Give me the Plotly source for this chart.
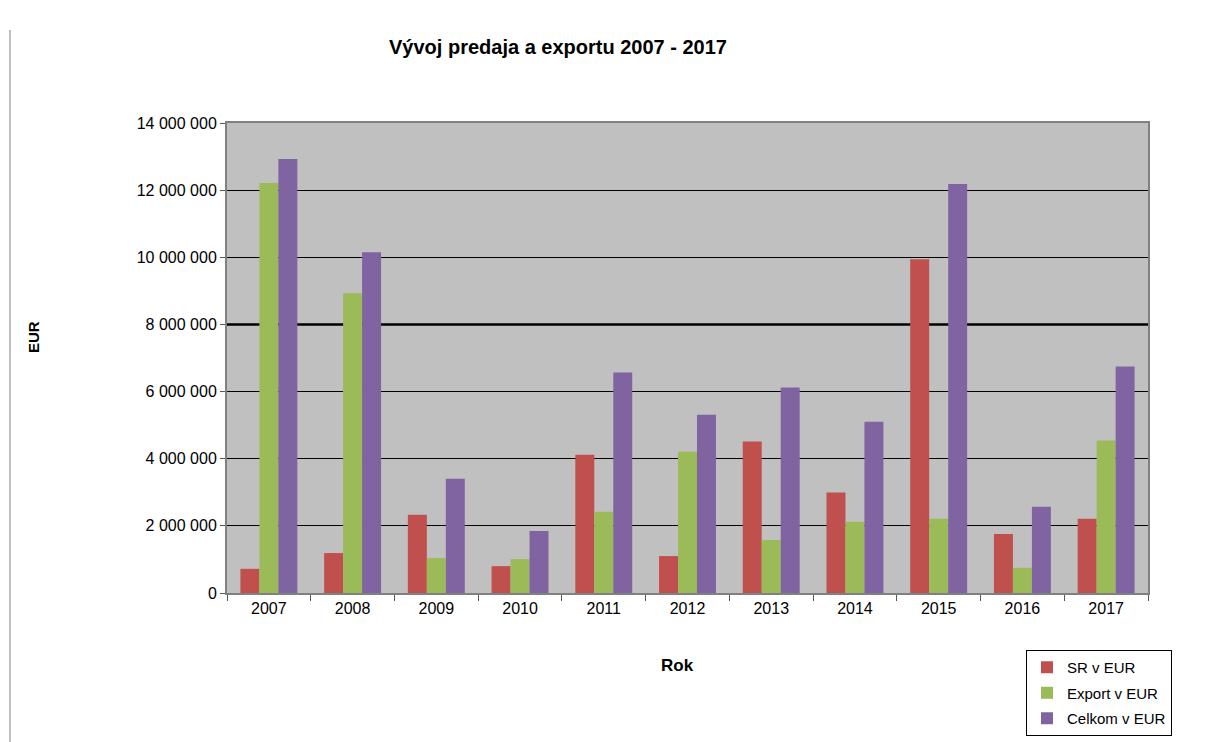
import plotly.graph_objects as go

years = ["2007", "2008", "2009", "2010", "2011", "2012", "2013", "2014", "2015", "2016", "2017"]
sr_eur = [720000, 1190000, 2330000, 800000, 4120000, 1100000, 4510000, 2990000, 9940000, 1760000, 2210000]
export_eur = [12210000, 8930000, 1040000, 1010000, 2420000, 4210000, 1580000, 2120000, 2210000, 750000, 4540000]
celkom_eur = [12930000, 10150000, 3400000, 1850000, 6570000, 5310000, 6120000, 5100000, 12180000, 2570000, 6750000]

series_names = ["SR v EUR", "Export v EUR", "Celkom v EUR"]
series_colors = ["#C0504D", "#9BBB59", "#8064A2"]
y_ticks = [0, 2000000, 4000000, 6000000, 8000000, 10000000, 12000000, 14000000]

fig = go.Figure()
for name, vals, col in zip(series_names, [sr_eur, export_eur, celkom_eur], series_colors):
    fig.add_trace(go.Bar(x=years, y=vals, name=name, legendgroup=name,
                         marker=dict(color=col, line=dict(width=0))))

# page body adds an 8px offset; plot area target: x 227-1148, y 123-593
OFF = 8
L, T, PW, PH = 227 - OFF, 123 - OFF, 921, 470
font_family = "Liberation Sans, Arial, sans-serif"
fig.update_layout(
    width=1220, height=742,
    barmode="group", bargap=0.32, bargroupgap=0,
    paper_bgcolor="white", plot_bgcolor="#C0C0C0",
    margin=dict(l=L, r=1220 - L - PW, t=T, b=742 - T - PH, autoexpand=False),
    separators=", ",
    font=dict(family=font_family, size=15, color="black"),
    title=dict(text="<b>Vývoj predaja a exportu 2007 - 2017</b>", x=(558 - OFF) / 1220, xref="container",
               xanchor="center", y=1 - (47 - OFF) / 742, yref="container", yanchor="middle",
               font=dict(size=20, family=font_family, color="black")),
    legend=dict(x=(1172 - 227) / 921, y=(593 - 650) / 470, xanchor="right", yanchor="top",
                bgcolor="white", bordercolor="black", borderwidth=1,
                font=dict(size=15, family=font_family), itemsizing="constant",
                tracegroupgap=3, itemwidth=30),
    showlegend=True,
)
fig.update_xaxes(
    type="category", tickson="boundaries", ticks="outside", ticklen=6, tickcolor="#555555",
    showline=True, linecolor="#808080", linewidth=2, mirror=True,
    tickfont=dict(size=16, family=font_family), showgrid=False,
)
fig.update_yaxes(
    range=[0, 14000000], tickvals=y_ticks, tickformat=",d",
    ticks="outside", ticklen=5, tickcolor="#555555",
    showline=True, linecolor="#808080", linewidth=2, mirror=True,
    showgrid=True, gridcolor="black", gridwidth=1, zeroline=False,
    tickfont=dict(size=16, family=font_family),
)
# thicker gridline at 8 000 000 as in reference
fig.add_shape(type="line", xref="paper", x0=0, x1=1, yref="y", y0=8000000, y1=8000000,
              line=dict(color="black", width=2.5), layer="below")
# left border line of the original sheet
fig.add_shape(type="line", xref="paper", x0=(10 - 227) / 921, x1=(10 - 227) / 921, yref="paper",
              y0=(593 - 30) / 470, y1=(593 - 745) / 470, line=dict(color="#808080", width=1))
fig.add_annotation(text="<b>EUR</b>", xref="paper", yref="paper", x=(33 - 227) / 921, y=(593 - 337) / 470,
                   showarrow=False, textangle=-90, font=dict(size=15, family=font_family),
                   xanchor="center", yanchor="middle")
fig.add_annotation(text="<b>Rok</b>", xref="paper", yref="paper", x=(677 - 227) / 921, y=(593 - 665) / 470,
                   showarrow=False, font=dict(size=17, family=font_family),
                   xanchor="center", yanchor="middle")

fig.write_html("out.html")
